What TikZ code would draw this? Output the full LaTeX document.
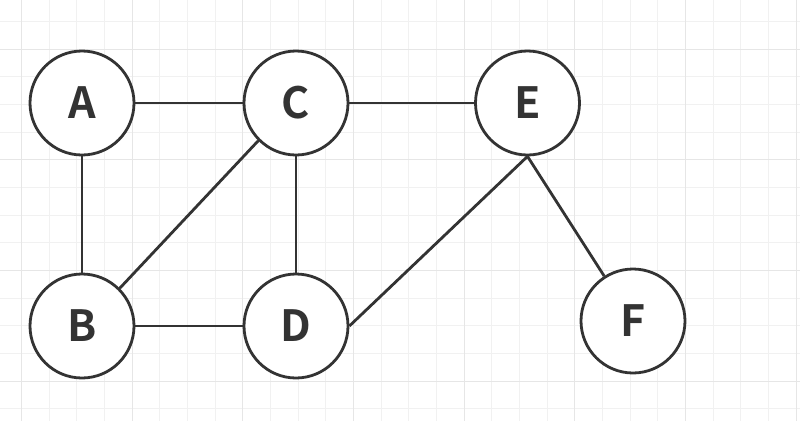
\documentclass[tikz,border=0pt]{standalone}
\usepackage{fontspec}
\newfontfamily\lblfont{Noto Sans CJK SC}[BoldFont={* Bold}]
\definecolor{ink}{HTML}{333333}
\definecolor{gridminor}{HTML}{F1F1F1}
\definecolor{gridmajor}{HTML}{E6E6E6}
\begin{document}
\begin{tikzpicture}[x=1pt,y=-1pt,
  vert/.style={circle, draw=ink, line width=2.8pt, fill=white, minimum size=104pt, inner sep=0pt,
    font=\lblfont\bfseries\fontsize{43}{43}\selectfont, text=ink},
  edge/.style={draw=ink, line width=2.8pt}]
  \fill[white] (0,0) rectangle (800,421);
  \useasboundingbox (0,0) rectangle (800,421);
  % grid
  \foreach \k in {0,...,28} {
    \pgfmathsetmacro{\gx}{21.5+27.67*\k}
    \draw[gridminor, line width=1pt] (\gx,0) -- (\gx,421);
  }
  \foreach \k in {0,...,14} {
    \pgfmathsetmacro{\gy}{21.5+27.67*\k}
    \draw[gridminor, line width=1pt] (0,\gy) -- (800,\gy);
  }
  \foreach \k in {0,4,...,28} {
    \pgfmathsetmacro{\gx}{21.5+27.67*\k}
    \draw[gridmajor, line width=1pt] (\gx,0) -- (\gx,421);
  }
  \foreach \k in {1,5,9,13} {
    \pgfmathsetmacro{\gy}{21.5+27.67*\k}
    \draw[gridmajor, line width=1pt] (0,\gy) -- (800,\gy);
  }
  % nodes
  \node[vert] (A) at (82,103) {A};
  \node[vert] (C) at (296,103) {C};
  \node[vert] (E) at (527.5,103) {E};
  \node[vert] (B) at (82,326) {B};
  \node[vert] (D) at (296,326) {D};
  \node[vert] (F) at (633,321) {F};
  % edges
  \draw[edge] (A) -- (C);
  \draw[edge] (C) -- (E);
  \draw[edge] (A) -- (B);
  \draw[edge] (C) -- (D);
  \draw[edge] (B) -- (D);
  \draw[edge] (B.north east) -- (C.south west);
  \draw[edge] (D.east) -- (E.south);
  \draw[edge] (E.south) -- (F);
\end{tikzpicture}
\end{document}
